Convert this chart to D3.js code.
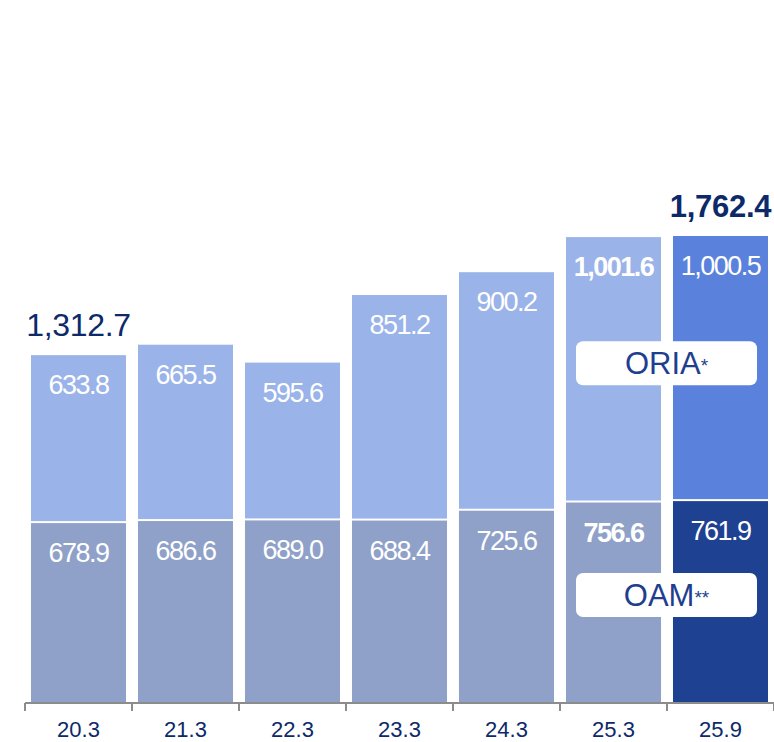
<!DOCTYPE html>
<html>
<head>
<meta charset="utf-8">
<script src="https://cdn.jsdelivr.net/npm/d3@7"></script>
<style>
  body { margin: 0; background: #fff; }
  svg text { font-family: 'Liberation Sans', Arial, sans-serif; }
</style>
</head>
<body>
<div id="chart"></div>
<script>
// periods on the x axis
const periods = ['20.3', '21.3', '22.3', '23.3', '24.3', '25.3', '25.9'];
// OAM** (bottom) and ORIA* (top) segments
const oam = [678.9, 686.6, 689.0, 688.4, 725.6, 756.6, 761.9];
const oria = [633.8, 665.5, 595.6, 851.2, 900.2, 1001.6, 1000.5];
// totals shown above the first and last bars
const totalLabels = { '20.3': '1,312.7', '25.9': '1,762.4' };
const boldPeriods = ['25.3'];

const width = 774;
const height = 742;
const baseY = 703;

const svg = d3.select('#chart').append('svg')
  .attr('width', width)
  .attr('height', height);

const x = d3.scaleBand()
  .domain(periods)
  .range([25, 774])
  .paddingInner(0.112)
  .paddingOuter(0.056);

const y = d3.scaleLinear()
  .domain([0, 2653])
  .range([baseY, 0]);

const colors = {
  oria: '#9AB3E9',
  oam: '#8FA1C8',
  oriaLast: '#5A82DC',
  oamLast: '#1F4192'
};
const navy = '#0C2A6A';

const rows = periods.map((p, i) => ({
  period: p,
  oam: oam[i],
  oria: oria[i],
  last: i === periods.length - 1,
  bold: boldPeriods.includes(p)
}));

const bars = svg.append('g').selectAll('g')
  .data(rows)
  .join('g');

// bottom segment
bars.append('rect')
  .attr('x', (d) => x(d.period))
  .attr('width', x.bandwidth())
  .attr('y', (d) => y(d.oam))
  .attr('height', (d) => baseY - y(d.oam))
  .attr('fill', (d) => (d.last ? colors.oamLast : colors.oam));

// top segment
bars.append('rect')
  .attr('x', (d) => x(d.period))
  .attr('width', x.bandwidth())
  .attr('y', (d) => y(d.oam + d.oria))
  .attr('height', (d) => y(d.oam) - y(d.oam + d.oria) - 2)
  .attr('fill', (d) => (d.last ? colors.oriaLast : colors.oria));

const fmt = d3.format(',.1f');

// segment value labels
const segLabel = (sel, valueFn, topFn) => sel.append('text')
  .attr('x', (d) => x(d.period) + x.bandwidth() / 2)
  .attr('y', (d) => y(topFn(d)) + 39)
  .attr('text-anchor', 'middle')
  .attr('fill', '#fff')
  .attr('font-size', 27)
  .attr('letter-spacing', -1.5)
  .attr('font-weight', (d) => (d.bold ? 'bold' : 'normal'))
  .text((d) => fmt(valueFn(d)));

segLabel(bars, (d) => d.oam, (d) => d.oam);
segLabel(bars, (d) => d.oria, (d) => d.oam + d.oria);

// totals
bars.filter((d) => totalLabels[d.period])
  .append('text')
  .attr('x', (d) => x(d.period) + x.bandwidth() / 2)
  .attr('y', (d) => y(d.oam + d.oria) - 19)
  .attr('text-anchor', 'middle')
  .attr('fill', navy)
  .attr('font-size', (d) => (d.last ? 31 : 32))
  .attr('letter-spacing', -0.3)
  .attr('font-weight', (d) => (d.last ? 'bold' : 'normal'))
  .text((d) => totalLabels[d.period]);

// axis: labels at band centres, ticks at band edges
const axis = svg.append('g')
  .attr('transform', `translate(0,${baseY})`);

axis.append('line')
  .attr('x1', 25).attr('x2', 774)
  .attr('stroke', '#8C8C8C').attr('stroke-width', 2);

const edges = periods.map((p) => x(p) - x.step() * x.paddingInner() / 2)
  .concat([x.range()[1]]);
axis.selectAll('.tick-edge')
  .data(edges)
  .join('line')
  .attr('class', 'tick-edge')
  .attr('x1', (d) => d).attr('x2', (d) => d)
  .attr('y1', 0).attr('y2', 8)
  .attr('stroke', '#8C8C8C').attr('stroke-width', 2);

const xAxis = d3.axisBottom(x).tickSize(0).tickPadding(0);
const gx = svg.append('g')
  .attr('transform', `translate(0,${baseY})`)
  .call(xAxis);
gx.select('.domain').remove();
gx.selectAll('text')
  .attr('dy', null)
  .attr('y', 34)
  .attr('font-size', 22)
  .attr('fill', navy)
  .style('font-family', "'Liberation Sans', Arial, sans-serif");

// legend tags over the last two bars
const tagX0 = x('25.3') + 10;
const tagX1 = x('25.9') + x.bandwidth() - 11;
const tags = [
  { name: 'ORIA', mark: '*', y: y(oam[6] + oria[6] * 0.52) },
  { name: 'OAM', mark: '**', y: y(oam[6] * 0.535) }
];
const tag = svg.append('g').selectAll('g')
  .data(tags)
  .join('g')
  .attr('transform', (d) => `translate(0,${d.y})`);

tag.append('rect')
  .attr('x', tagX0)
  .attr('y', -22)
  .attr('width', tagX1 - tagX0)
  .attr('height', 44)
  .attr('rx', 7)
  .attr('fill', '#fff');

const tagText = tag.append('text')
  .attr('x', (tagX0 + tagX1) / 2)
  .attr('y', 11)
  .attr('text-anchor', 'middle')
  .attr('fill', '#1F3F8E')
  .attr('font-size', 31);
tagText.append('tspan').text((d) => d.name);
tagText.append('tspan')
  .attr('font-size', 19)
  .attr('dy', -2)
  .text((d) => d.mark);
</script>
</body>
</html>
